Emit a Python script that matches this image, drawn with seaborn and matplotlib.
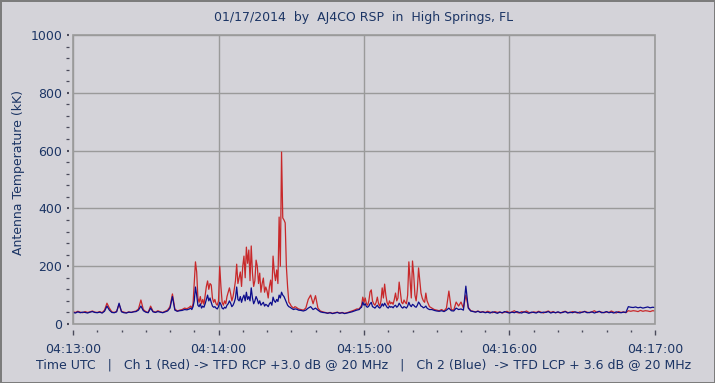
import pandas as pd
import matplotlib
matplotlib.use("Agg")
import matplotlib.pyplot as plt
import seaborn as sns
from matplotlib.patches import Rectangle
from matplotlib.ticker import MultipleLocator

# ----------------------------------------------------------
# Data
# quiet stretches: one sample per second
# busy stretches: one sample per half second
# ----------------------------------------------------------

t_a = list(range(0, 48))
t_b = [48 + i * 0.5 for i in range(89)]       # 04:13:48 - 04:14:32
t_c = list(range(93, 118))
t_d = [118 + i * 0.5 for i in range(59)]      # 04:14:58 - 04:15:27
t_e = list(range(148, 241))

red_a = [
    42, 40, 44, 41, 39, 43, 40, 42, 45, 41,
    40, 43, 39, 48, 72, 55, 42, 40, 44, 68,
    44, 41, 39, 42, 40, 43, 45, 52, 83, 50,
    43, 40, 62, 44, 41, 46, 42, 40, 44, 48,
    60, 104, 52, 45, 48, 50, 55, 53,
]
red_b = [
    58, 62, 55, 70, 140, 215, 180, 90, 75, 95,
    70, 85, 68, 100, 130, 149, 120, 140, 135, 90,
    75, 85, 70, 65, 80, 200, 130, 75, 65, 80,
    70, 95, 110, 125, 105, 80, 95, 120, 150, 207,
    140, 160, 180, 130, 200, 235, 160, 266, 210, 256,
    150, 270, 176, 130, 150, 221, 200, 140, 176, 110,
    140, 159, 110, 128, 115, 90, 130, 152, 110, 235,
    180, 150, 187, 140, 370, 200, 595, 367, 360, 350,
    197, 128, 76, 70, 62, 58, 55, 60, 58,
]
red_c = [
    52, 50, 48, 55, 85, 100, 70,
    98, 55, 45, 42, 40, 38, 40, 37, 39, 41,
    38, 40, 37, 39, 42, 45, 48, 52,
]
red_d = [
    52, 58, 65, 93, 75, 90, 70, 65, 80, 111,
    118, 80, 70, 65, 75, 93, 70, 62, 80, 125,
    90, 138, 100, 75, 65, 80, 70, 75, 68, 85,
    107, 80, 90, 145, 110, 75, 70, 83, 75, 70,
    100, 215, 150, 90, 218, 170, 100, 80, 120, 194,
    150, 107, 90, 80, 75, 107, 80, 70, 60,
]
red_e = [
    55, 50,
    48, 46, 50, 45, 55, 114, 50, 48, 76, 62,
    76, 55, 100, 58, 46, 44, 42, 45, 41, 43,
    40, 44, 41, 39, 43, 40, 42, 38, 41, 44,
    39, 42, 46, 40, 38, 43, 41, 45, 40, 39,
    42, 40, 44, 41, 38, 42, 45, 40, 43, 39,
    41, 38, 42, 44, 40, 39, 43, 41, 38, 42,
    40, 44, 41, 39, 42, 46, 40, 43, 41, 39,
    42, 40, 45, 41, 38, 43, 40, 42, 39, 46,
    44, 46, 45, 43, 47, 44, 46, 45, 43, 46, 45,
]

blue_a = [
    40, 38, 42, 39, 41, 40, 38, 41, 43, 40,
    39, 41, 38, 44, 62, 48, 40, 39, 42, 72,
    42, 39, 38, 41, 40, 42, 43, 48, 62, 46,
    41, 39, 55, 42, 40, 43, 41, 39, 42, 45,
    55, 95, 48, 44, 46, 47, 50, 49,
]
blue_b = [
    52, 55, 50, 60, 80, 128, 100, 65, 60, 70,
    55, 62, 58, 70, 85, 100, 80, 90, 75, 62,
    58, 60, 55, 52, 60, 75, 68, 55, 52, 58,
    55, 65, 70, 80, 72, 60, 65, 75, 90, 128,
    85, 80, 95, 75, 90, 100, 80, 110, 85, 95,
    80, 125, 90, 70, 80, 95, 85, 70, 80, 65,
    70, 75, 62, 68, 65, 60, 70, 75, 65, 93,
    80, 75, 85, 78, 100, 90, 110, 100, 95, 85,
    75, 65, 60, 58, 55, 52, 50, 52, 52,
]
blue_c = [
    48, 47, 45, 48, 55, 60, 50,
    55, 48, 42, 40, 39, 37, 39, 36, 38, 40,
    37, 39, 36, 38, 40, 42, 45, 48,
]
blue_d = [
    50, 55, 58, 76, 65, 70, 60, 58, 62, 70,
    75, 60, 58, 55, 60, 65, 58, 55, 60, 70,
    62, 72, 65, 58, 55, 62, 58, 60, 56, 62,
    65, 58, 62, 72, 65, 58, 55, 60, 58, 55,
    62, 75, 65, 60, 68, 65, 60, 58, 65, 76,
    70, 62, 60, 56, 58, 62, 55, 52, 50,
]
blue_e = [
    50, 47,
    45, 44, 46, 43, 48, 55, 46, 45, 55, 50,
    52, 48, 131, 55, 45, 43, 41, 44, 40, 42,
    39, 41, 38, 42, 40, 37, 41, 39, 43, 40,
    38, 41, 39, 43, 40, 38, 42, 40, 37, 41,
    40, 38, 42, 39, 41, 40, 43, 38, 41, 39,
    42, 39, 40, 43, 38, 41, 39, 42, 40, 38,
    41, 43, 39, 40, 42, 38, 41, 44, 39, 40,
    43, 39, 41, 38, 42, 40, 39, 41, 40, 60,
    58, 57, 59, 56, 58, 55, 57, 59, 56, 58, 57,
]

seconds = t_a + t_b + t_c + t_d + t_e
ch1_red = red_a + red_b + red_c + red_d + red_e
ch2_blue = blue_a + blue_b + blue_c + blue_d + blue_e

x_ticks = [0, 60, 120, 180, 240]
x_tick_labels = ["04:13:00", "04:14:00", "04:15:00", "04:16:00", "04:17:00"]

TITLE = "01/17/2014  by  AJ4CO RSP  in  High Springs, FL"
X_LABEL = ("Time UTC   |   Ch 1 (Red) -> TFD RCP +3.0 dB @ 20 MHz   |   "
           "Ch 2 (Blue)  -> TFD LCP + 3.6 dB @ 20 MHz")
Y_LABEL = "Antenna Temperature (kK)"

# ----------------------------------------------------------
# Style
# ----------------------------------------------------------

BG = "#d4d3d9"
TEXT = "#1c3565"
GRID = "#9a9a9a"
TICK = "#4a4a5a"
RED = "#c8282a"
BLUE = "#0c0c8c"

sns.set_theme(style="white")
plt.rcParams["font.family"] = ["DejaVu Sans"]

df = pd.DataFrame({
    "seconds": seconds + seconds,
    "temp": ch1_red + ch2_blue,
    "channel": ["Ch 1"] * len(ch1_red) + ["Ch 2"] * len(ch2_blue),
})

# ----------------------------------------------------------
# Plot
# ----------------------------------------------------------

fig = plt.figure(figsize=(7.15, 3.83), dpi=100, facecolor=BG,
                 edgecolor="#7c7c7c", linewidth=2)
ax = fig.add_axes([73 / 715, 1 - 324 / 383, 582 / 715, 289 / 383])
ax.set_facecolor(BG)
ax.set_axisbelow(True)

sns.lineplot(
    data=df,
    x="seconds",
    y="temp",
    hue="channel",
    palette={"Ch 1": RED, "Ch 2": BLUE},
    linewidth=0.9,
    errorbar=None,
    legend=False,
    ax=ax
)

ax.set_xlim(0, 240)
ax.set_ylim(0, 1000)
ax.set_xticks(x_ticks)
ax.set_xticklabels(x_tick_labels)
ax.xaxis.set_minor_locator(MultipleLocator(10))
ax.yaxis.set_major_locator(MultipleLocator(200))
ax.yaxis.set_minor_locator(MultipleLocator(40))
ax.set_xlabel("")
ax.set_ylabel("")

ax.grid(True, which="major", color=GRID, linewidth=1)

for side in ax.spines.values():
    side.set_visible(False)
ax.spines["left"].set_position(("outward", 3))
ax.spines["bottom"].set_position(("outward", 4.5))
ax.add_patch(Rectangle((0, 0), 1, 1, transform=ax.transAxes, fill=False,
                       edgecolor=GRID, linewidth=1.2, clip_on=False, zorder=3))

ax.tick_params(axis="x", which="major", bottom=True, length=3.5, width=1,
               color=TICK, pad=6, labelsize=9, labelcolor=TEXT)
ax.tick_params(axis="x", which="minor", bottom=True, length=1.5, width=1,
               color=TICK)
ax.tick_params(axis="y", which="major", left=True, length=1.2, width=1.5,
               color=TICK, pad=3.6, labelsize=9, labelcolor=TEXT)
ax.tick_params(axis="y", which="minor", left=True, length=2.2, width=0.9,
               color=TICK)

fig.text(364 / 715, 1 - 18 / 383, TITLE, ha="center", va="center",
         fontsize=9, color=TEXT)
fig.text(364 / 715, 1 - 365 / 383, X_LABEL, ha="center", va="center",
         fontsize=9, color=TEXT)
fig.text(19 / 715, 1 - 173 / 383, Y_LABEL, ha="center", va="center",
         rotation=90, fontsize=9, color=TEXT)

fig.savefig("out.png", dpi=100, facecolor=BG)
